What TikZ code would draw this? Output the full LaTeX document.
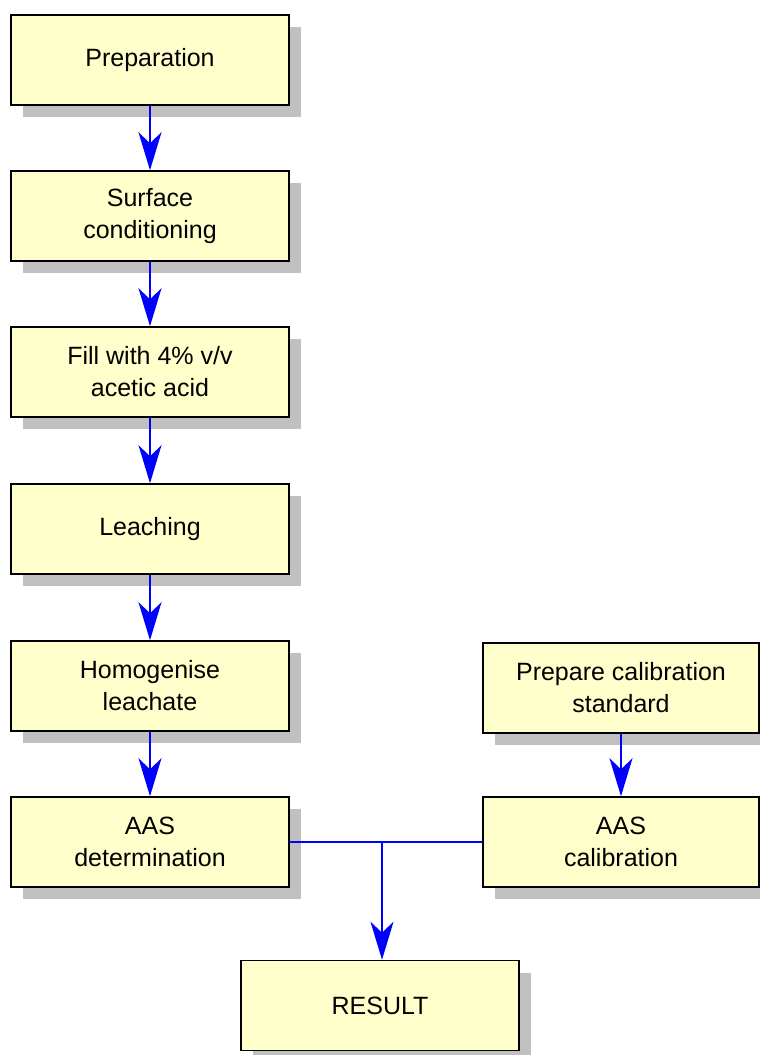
\documentclass[tikz,border=0pt]{standalone}
\usepackage{fontspec}
\setmainfont{Liberation Sans}
\usetikzlibrary{arrows.meta,shadows}
\definecolor{boxfill}{RGB}{255,255,204}
\definecolor{shadowgray}{RGB}{192,192,192}
\definecolor{arrblue}{RGB}{0,0,255}
\begin{document}
\begin{tikzpicture}[x=1pt,y=-1pt,
  stepbox/.style={draw=black, line width=1.5pt, fill=boxfill,
    minimum width=278pt, minimum height=90pt, inner sep=0pt,
    align=center, font=\fontsize{25}{32}\selectfont,
    drop shadow={shadow xshift=12pt, shadow yshift=-12pt, fill=shadowgray, opacity=1}},
  conn/.style={draw=arrblue, line width=1.8pt},
  arr/.style={conn, -{Stealth[length=38pt,width=23pt,inset=11pt]}}]
\useasboundingbox (0,0) rectangle (760,1055);
\node[stepbox] (prep) at (150,60) {Preparation};
\node[stepbox] (surf) at (150,216) {Surface\\conditioning};
\node[stepbox] (fill) at (150,372) {Fill with 4\% v/v\\acetic acid};
\node[stepbox] (leach) at (150,529) {Leaching};
\node[stepbox] (homo) at (150,686) {Homogenise\\leachate};
\node[stepbox] (det) at (150,842) {AAS\\determination};
\node[stepbox, minimum width=276pt] (std) at (621,688) {Prepare calibration\\standard};
\node[stepbox, minimum width=276pt] (cal) at (621,842) {AAS\\calibration};
\node[stepbox] (res) at (380,1005.5) {RESULT};
\draw[arr] (prep.south) -- (surf.north);
\draw[arr] (surf.south) -- (fill.north);
\draw[arr] (fill.south) -- (leach.north);
\draw[arr] (leach.south) -- (homo.north);
\draw[arr] (homo.south) -- (det.north);
\draw[arr] (std.south) -- (cal.north);
\draw[conn] (det.east) -- (cal.west);
\coordinate (j) at (382,842);
\draw[arr] (j) -- (j |- res.north);
\end{tikzpicture}
\end{document}
